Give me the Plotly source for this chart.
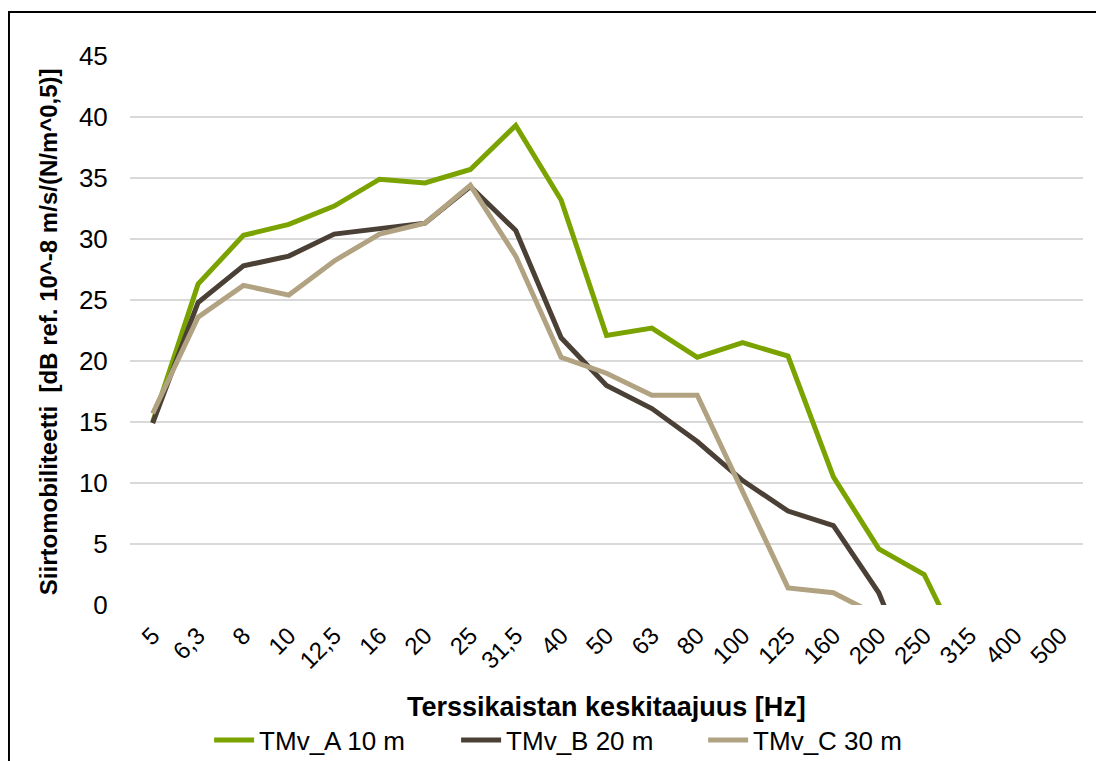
import plotly.graph_objects as go

# Terssikaistojen keskitaajuudet (Hz)
taajuudet = ['5', '6,3', '8', '10', '12,5', '16', '20', '25', '31,5', '40',
             '50', '63', '80', '100', '125', '160', '200', '250', '315', '400', '500']

tmv_a = [15.0, 26.3, 30.3, 31.2, 32.7, 34.9, 34.6, 35.7, 39.3, 33.2,
         22.1, 22.7, 20.3, 21.5, 20.4, 10.5, 4.6, 2.5, -5.1, None, None]
tmv_b = [14.9, 24.8, 27.8, 28.6, 30.4, 30.9, 31.3, 34.3, 30.7, 21.9,
         18.0, 16.1, 13.4, 10.2, 7.7, 6.5, 1.0, -8.0, None, None, None]
tmv_c = [15.7, 23.6, 26.2, 25.4, 28.2, 30.4, 31.3, 34.4, 28.6, 20.3,
         19.0, 17.2, 17.2, 9.3, 1.4, 1.0, -0.9, None, None, None, None]

sarjat = [
    ('TMv_A 10 m', tmv_a, '#7BA300'),
    ('TMv_B 20 m', tmv_b, '#4A4036'),
    ('TMv_C 30 m', tmv_c, '#B1A282'),
]

fontti = 'Liberation Sans, Arial, sans-serif'

fig = go.Figure()
for nimi, arvot, vari in sarjat:
    fig.add_trace(go.Scatter(x=taajuudet, y=arvot, name=nimi, mode='lines',
                             line=dict(color=vari, width=5)))

# sivun oletusmarginaali (8 px) siirtää kuvaa, joten marginaalit on pienennetty sen verran
fig.update_layout(
    width=1104, height=769,
    margin=dict(l=122, r=29, t=48, b=172),
    paper_bgcolor='white', plot_bgcolor='white',
    font=dict(family=fontti, size=24, color='black'),
    showlegend=True,
    legend=dict(orientation='h', x=0.083, xanchor='left', y=-0.246, yanchor='middle',
                font=dict(size=26), traceorder='normal', itemwidth=40,
                entrywidth=192, entrywidthmode='pixels', tracegroupgap=0),
    xaxis=dict(type='category', range=[-0.5, 20.5], tickangle=-45, automargin=False,
               showgrid=False, zeroline=False, showline=False,
               ticks='outside', ticklen=6, tickcolor='white',
               tickfont=dict(size=24)),
    yaxis=dict(range=[0, 45], dtick=5, showgrid=True, gridcolor='#D9D9D9', gridwidth=2,
               automargin=False, zeroline=False, showline=False, ticks='outside',
               ticklen=16, tickcolor='white', tickfont=dict(size=26)),
)

# akselien otsikot
fig.add_annotation(text='<b>Terssikaistan keskitaajuus [Hz]</b>', xref='paper', yref='paper',
                   x=0.5, y=-0.185, xanchor='center', yanchor='middle',
                   showarrow=False, font=dict(size=27))
fig.add_annotation(text='<b>Siirtomobiliteetti  [dB ref. 10^-8 m/s/(N/m^0,5)]</b>',
                   xref='paper', yref='paper', x=-0.086, y=0.497, textangle=-90,
                   xanchor='center', yanchor='middle', showarrow=False, font=dict(size=24))

# kaavion kehys
fig.add_shape(type='rect', xref='paper', yref='paper',
              x0=-0.127, x1=1.0157, y0=-0.32, y1=1.080,
              line=dict(color='black', width=2))

fig.write_html("out.html")
